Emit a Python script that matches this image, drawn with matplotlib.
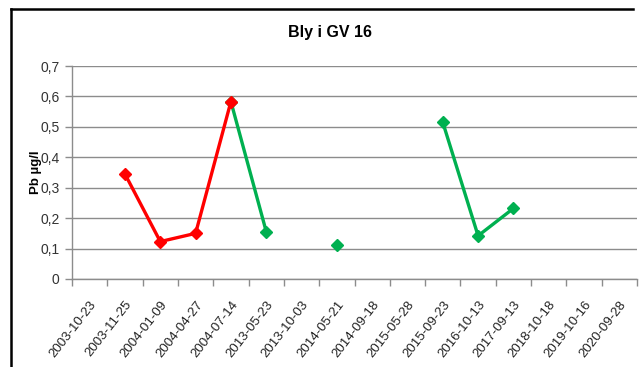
import numpy as np
import matplotlib
matplotlib.use("Agg")
import matplotlib.pyplot as plt
from matplotlib.lines import Line2D
from matplotlib.ticker import FixedLocator, FuncFormatter

# Sampling dates (category axis) and lead concentrations
dates = ["2003-10-23", "2003-11-25", "2004-01-09", "2004-04-27", "2004-07-14",
         "2013-05-23", "2013-10-03", "2014-05-21", "2014-09-18", "2015-05-28",
         "2015-09-23", "2016-10-13", "2017-09-13", "2018-10-18", "2019-10-16",
         "2020-09-28"]
nan = np.nan
pb_red = [nan, 0.345, 0.123, 0.150, 0.583, nan, nan, nan, nan, nan,
          nan, nan, nan, nan, nan, nan]
pb_green = [nan, nan, nan, nan, 0.583, 0.156, nan, 0.111, nan, nan,
            0.515, 0.142, 0.232, nan, nan, nan]
y_ticks = [0, 0.1, 0.2, 0.3, 0.4, 0.5, 0.6, 0.7]

plt.rcParams["font.family"] = ["Liberation Sans", "DejaVu Sans"]

W, H = 644, 367
fig = plt.figure(figsize=(W / 100, H / 100), dpi=100)

# outer chart frame (top and left edges)
fig.add_artist(Line2D([11 / W, 633 / W], [1 - 9 / H, 1 - 9 / H],
                      transform=fig.transFigure, color="black", linewidth=1.8))
fig.add_artist(Line2D([11 / W, 11 / W], [0, 1 - 9 / H],
                      transform=fig.transFigure, color="black", linewidth=1.8))

left, right, top, bottom = 72, 637, 66, 279
ax = fig.add_axes([left / W, 1 - bottom / H, (right - left) / W, (bottom - top) / H])

x = np.arange(len(dates)) + 0.5
ax.plot(x, pb_green, color="#00B050", linewidth=2.4, marker="D",
        markersize=6.3, zorder=3)
ax.plot(x, pb_red, color="#FF0000", linewidth=2.4, marker="D",
        markersize=6.3, zorder=4)

ax.set_xlim(0, len(dates))
ax.set_ylim(0, 0.7)
ax.set_yticks(y_ticks)
ax.yaxis.set_major_formatter(FuncFormatter(lambda v, p: "0" if v == 0 else f"{v:.1f}".replace(".", ",")))
ax.grid(axis="y", color="#8c8c8c", linewidth=1.0)
ax.set_axisbelow(True)

ax.xaxis.set_major_locator(FixedLocator(np.arange(len(dates) + 1)))
ax.xaxis.set_minor_locator(FixedLocator(x))
ax.set_xticklabels([])
ax.set_xticklabels(dates, minor=True, rotation=52, ha="right", va="top",
                   rotation_mode="anchor", fontsize=9.5, color="#222222")
ax.tick_params(axis="x", which="major", length=5, color="#8c8c8c", width=1)
ax.tick_params(axis="x", which="minor", length=0, pad=14)
ax.tick_params(axis="y", length=5, color="#8c8c8c", width=1, labelsize=10,
               labelcolor="#333333", pad=4)

for s in ["top", "right"]:
    ax.spines[s].set_visible(False)
for s in ["left", "bottom"]:
    ax.spines[s].set_color("#8c8c8c")
    ax.spines[s].set_linewidth(1.0)

ax.set_ylabel("Pb µg/l", fontsize=9.5, fontweight="bold", va="center")
ax.yaxis.set_label_coords((36 - left) / (right - left), 0.5)
fig.text(330 / W, 1 - 33 / H, "Bly i GV 16", ha="center", va="center",
         fontsize=11.5, fontweight="bold")

fig.savefig("out.png", dpi=100)
